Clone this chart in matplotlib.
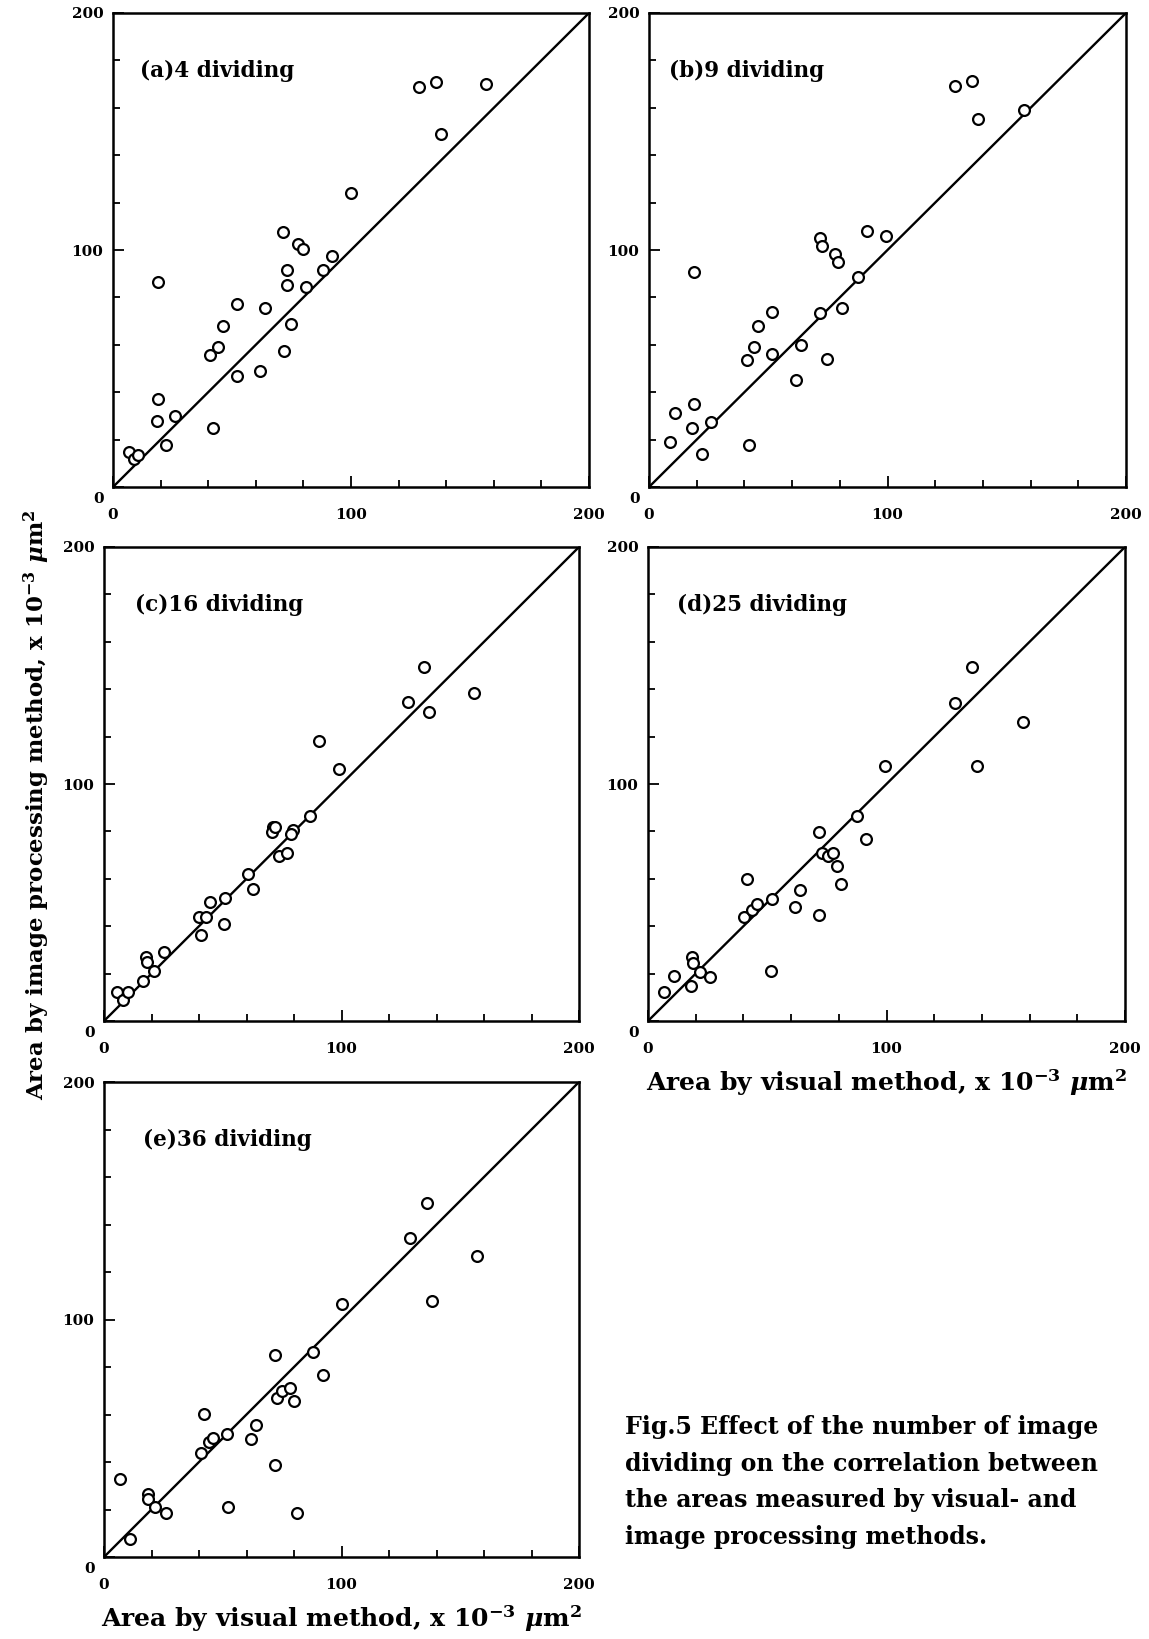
import matplotlib
matplotlib.use('Agg')
import matplotlib.pyplot as plt

# ------------------ DATA (x10^-3 um^2) ------------------
# x = area by visual method, y = area by image processing method
a_x = [6.7, 8.7, 10.5, 18.8, 19.1, 18.4, 22.1, 26.1, 41.9, 40.9, 44.0, 46.1, 52.0, 51.9, 61.9, 63.9,
       71.6, 72.9, 72.9, 74.7, 72.0, 77.9, 80.0, 81.0, 88.2, 92.1, 100.2, 128.7, 135.8, 156.7, 138.0]
a_y = [14.8, 11.8, 13.6, 86.5, 37.3, 28.0, 17.7, 30.0, 24.8, 55.6, 58.9, 67.8, 77.4, 46.8, 49.1, 75.4,
       107.6, 91.7, 85.1, 68.8, 57.2, 102.5, 100.4, 84.5, 91.7, 97.5, 124.1, 168.8, 170.7, 169.9, 149.1]

b_x = [9.0, 10.9, 18.9, 18.1, 22.2, 26.2, 18.9, 40.9, 44.0, 45.8, 51.7, 51.5, 41.9, 61.7, 63.8,
       71.8, 72.4, 77.8, 79.4, 71.9, 80.9, 74.8, 87.8, 91.5, 99.3, 128.5, 135.6, 138.1, 157.2]
b_y = [19.0, 31.2, 34.9, 25.0, 14.1, 27.3, 90.7, 53.7, 59.1, 67.8, 73.7, 56.3, 17.9, 45.3, 59.8,
       104.9, 101.7, 98.5, 94.9, 73.4, 75.7, 54.1, 88.6, 108.0, 105.8, 169.3, 171.2, 155.3, 159.2]

c_x = [5.5, 7.9, 10.2, 16.6, 17.8, 18.0, 21.1, 25.4, 39.9, 42.9, 44.8, 41.0, 50.8, 50.7, 60.8,
       62.9, 71.0, 70.7, 72.1, 73.8, 77.1, 79.7, 78.9, 86.7, 90.5, 98.8, 128.1, 134.7, 136.8, 155.9]
c_y = [12.1, 8.9, 12.1, 17.0, 27.0, 24.8, 21.1, 29.1, 44.0, 43.9, 50.1, 36.3, 51.9, 40.9, 62.2,
       55.7, 81.9, 79.7, 81.9, 69.8, 70.9, 80.7, 78.8, 86.5, 118.3, 106.5, 134.5, 149.5, 130.2, 138.5]

d_x = [6.6, 10.8, 18.0, 18.6, 18.9, 21.9, 25.8, 40.2, 43.7, 45.8, 41.4, 51.8, 51.7, 61.6, 63.8,
       71.6, 71.6, 72.8, 75.4, 77.6, 79.4, 80.8, 87.7, 91.4, 99.5, 128.7, 135.9, 138.0, 157.2]
d_y = [12.1, 19.0, 14.6, 26.8, 24.6, 20.6, 18.7, 44.0, 46.7, 49.4, 59.8, 51.5, 20.9, 47.9, 55.3,
       44.8, 79.7, 70.7, 69.6, 70.7, 65.6, 57.7, 86.7, 76.7, 107.5, 134.1, 149.5, 107.5, 126.1]

e_x = [6.9, 11.1, 18.5, 18.7, 21.6, 26.1, 40.8, 44.2, 46.0, 42.0, 51.9, 52.1, 61.8, 64.0,
       72.0, 72.1, 73.0, 75.1, 78.5, 79.9, 81.3, 88.1, 92.1, 100.4, 129.0, 136.1, 138.0, 156.9]
e_y = [32.8, 7.5, 26.4, 24.3, 20.9, 18.7, 44.0, 48.4, 50.1, 60.1, 51.8, 20.9, 49.8, 55.7,
       38.7, 84.9, 67.1, 70.0, 71.1, 65.8, 18.7, 86.4, 76.8, 106.7, 134.3, 149.1, 107.8, 126.7]

panel_titles = ['(a)4 dividing', '(b)9 dividing', '(c)16 dividing', '(d)25 dividing', '(e)36 dividing']
tick_values = [0, 100, 200]
tick_labels = ['0', '100', '200']

x_label = r'Area by visual method, x 10$^{\mathbf{-3}}$ $\mu$m$^{\mathbf{2}}$'
y_label = r'Area by image processing method, x 10$^{\mathbf{-3}}$ $\mu$m$^{\mathbf{2}}$'
caption_lines = ['Fig.5 Effect of the number of image',
                 'dividing on the correlation between',
                 'the areas measured by visual- and',
                 'image processing methods.']

# ------------------ LAYOUT (pixels) ------------------
W, H = 1149, 1639
# left, right, top, bottom of each axes box
BOXES = [(113, 589, 13, 487), (649, 1126, 13, 487),
         (104, 579, 547, 1021), (648, 1125, 547, 1021),
         (104, 579, 1082, 1557)]
TITLE_X = [11.3, 8.5, 13.1, 12.0, 16.6]

plt.rcParams['font.family'] = ['DejaVu Serif']
plt.rcParams['font.weight'] = 'bold'
plt.rcParams['mathtext.fontset'] = 'dejavuserif'

fig = plt.figure(figsize=(W / 100, H / 100), dpi=100)

series = [(a_x, a_y), (b_x, b_y), (c_x, c_y), (d_x, d_y), (e_x, e_y)]

for i, ((xs, ys), (l, r, t, b)) in enumerate(zip(series, BOXES)):
    ax = fig.add_axes([l / W, 1 - b / H, (r - l) / W, (b - t) / H])
    ax.plot([0, 200], [0, 200], color='black', lw=1.7, zorder=2)
    ax.plot(xs, ys, 'o', ms=7.8, mfc='white', mec='black', mew=1.6, zorder=3)
    ax.set_xlim(0, 200)
    ax.set_ylim(0, 200)
    for sp in ax.spines.values():
        sp.set_linewidth(1.8)

    ax.set_xticks(tick_values)
    ax.set_xticklabels(tick_labels)
    ax.set_yticks(tick_values)
    ax.set_yticklabels([''] + tick_labels[1:])
    ax.set_xticks(range(20, 200, 20), minor=True)
    ax.set_yticks(range(20, 200, 20), minor=True)
    ax.tick_params(which='both', direction='in', width=1.3, labelsize=11)
    ax.tick_params(which='major', length=8)
    ax.tick_params(which='minor', length=5)
    ax.tick_params(axis='x', which='major', pad=15)
    ax.tick_params(axis='y', which='major', pad=7)
    # y "0" sits a bit lower than its tick, as in the original
    ax.annotate('0', xy=(0, 0), xycoords='axes fraction', xytext=(-9, -12),
                textcoords='offset pixels', ha='right', va='center',
                fontsize=11, fontweight='bold')

    ax.text(TITLE_X[i], 175.5, panel_titles[i], fontsize=15.5, fontweight='bold',
            ha='left', va='center')

    if i in (3, 4):
        ax.set_xlabel(x_label, fontsize=18, fontweight='bold')
        ax.xaxis.set_label_coords(0.5, -0.13)
        ax.xaxis.label.set_va('center')

fig.text(37 / W, 1 - 805 / H, y_label, rotation=90, fontsize=16.5, fontweight='bold',
         ha='center', va='center')

for k, line in enumerate(caption_lines):
    fig.text(625 / W, 1 - (1427 + 36.7 * k) / H, line, fontsize=17, fontweight='bold',
             ha='left', va='center')

fig.savefig('out.png', dpi=100, facecolor='white')
